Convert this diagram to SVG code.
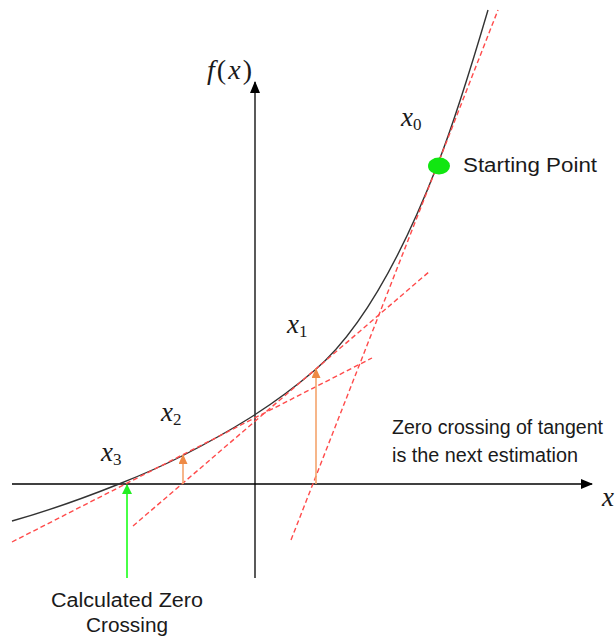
<svg xmlns="http://www.w3.org/2000/svg" width="616" height="641" viewBox="0 0 616 641">
<style>
.axis{stroke:#000;stroke-width:1.3;fill:none}
.curve{stroke:#333;stroke-width:1.4;fill:none}
.tan{stroke:#FF4B4B;stroke-width:1.4;fill:none;stroke-dasharray:5 3}
.orange{stroke:#F4A46C;stroke-width:1.6;fill:none}
.green{stroke:#33FF33;stroke-width:1.8;fill:none}
.lbl{font-family:"Liberation Sans","Noto Sans",sans-serif;font-size:20px;fill:#1a1a1a}
.math{font-family:"Liberation Serif","DejaVu Serif",serif;font-style:italic;fill:#1a1a1a}
.sub{font-family:"Liberation Serif","DejaVu Serif",serif;font-style:normal;fill:#1a1a1a}
</style>
<defs>
<marker id="ahBlack" markerUnits="userSpaceOnUse" markerWidth="12" markerHeight="10" refX="11" refY="5" orient="auto"><path d="M0,0 L12,5 L0,10 Z" fill="#000"/></marker>
<marker id="ahOrange" markerUnits="userSpaceOnUse" markerWidth="10" markerHeight="9" refX="9" refY="4.5" orient="auto"><path d="M0,0 L10,4.5 L0,9 Z" fill="#EE8A45"/></marker>
<marker id="ahGreen" markerUnits="userSpaceOnUse" markerWidth="10" markerHeight="10" refX="9" refY="5" orient="auto"><path d="M0,0 L10,5 L0,10 Z" fill="#22EE22"/></marker>
</defs>
<g id="connectors">
<line class="axis" x1="12" y1="484" x2="592" y2="484" marker-end="url(#ahBlack)"/>
<line class="axis" x1="255" y1="578" x2="255" y2="82" marker-end="url(#ahBlack)"/>
<path class="curve" d="M12,521 C47.7,511 83.3,498.3 119,484 C140,475.6 161,466.7 182,456 C226.3,433.4 270.7,408 315,370 C355.7,335.1 396.3,270.1 437,166 C454,122.5 471,67.8 488,10"/>
<line class="tan" x1="291" y1="540" x2="498" y2="10"/>
<line class="tan" x1="133" y1="526" x2="430" y2="271"/>
<line class="tan" x1="12" y1="542" x2="372" y2="358"/>
<line class="orange" x1="183" y1="484" x2="183" y2="455" marker-end="url(#ahOrange)"/>
<line class="orange" x1="316" y1="484" x2="316" y2="369" marker-end="url(#ahOrange)"/>
<line class="green" x1="127" y1="578" x2="127" y2="485" marker-end="url(#ahGreen)"/>
</g>
<g id="start-point">
<ellipse cx="439" cy="166" rx="11" ry="8.5" fill="#11E611"/>
<text class="lbl" x="463" y="172" font-size="21" textLength="134" lengthAdjust="spacingAndGlyphs">Starting Point</text>
</g>
<g id="axis-labels">
<text x="207" y="79" font-size="28" textLength="45" lengthAdjust="spacing"><tspan class="math">f</tspan><tspan class="sub">(</tspan><tspan class="math">x</tspan><tspan class="sub">)</tspan></text>
<text class="math" x="602" y="506" font-size="27">x</text>
</g>
<g id="estimates">
<text x="401" y="126" font-size="27"><tspan class="math">x</tspan><tspan class="sub" font-size="17" dy="4">0</tspan></text>
<text x="287" y="333" font-size="27"><tspan class="math">x</tspan><tspan class="sub" font-size="17" dy="4">1</tspan></text>
<text x="161" y="421" font-size="27"><tspan class="math">x</tspan><tspan class="sub" font-size="17" dy="4">2</tspan></text>
<text x="101" y="461" font-size="27"><tspan class="math">x</tspan><tspan class="sub" font-size="17" dy="4">3</tspan></text>
</g>
<g id="note">
<text class="lbl" x="392" y="434" font-size="19.5" textLength="211" lengthAdjust="spacingAndGlyphs">Zero crossing of tangent</text>
<text class="lbl" x="392" y="462" font-size="19.5" textLength="186" lengthAdjust="spacingAndGlyphs">is the next estimation</text>
</g>
<g id="zero-label">
<text class="lbl" x="51" y="607" font-size="21" textLength="152" lengthAdjust="spacingAndGlyphs">Calculated Zero</text>
<text class="lbl" x="86" y="632" font-size="21" textLength="82" lengthAdjust="spacingAndGlyphs">Crossing</text>
</g>
</svg>
